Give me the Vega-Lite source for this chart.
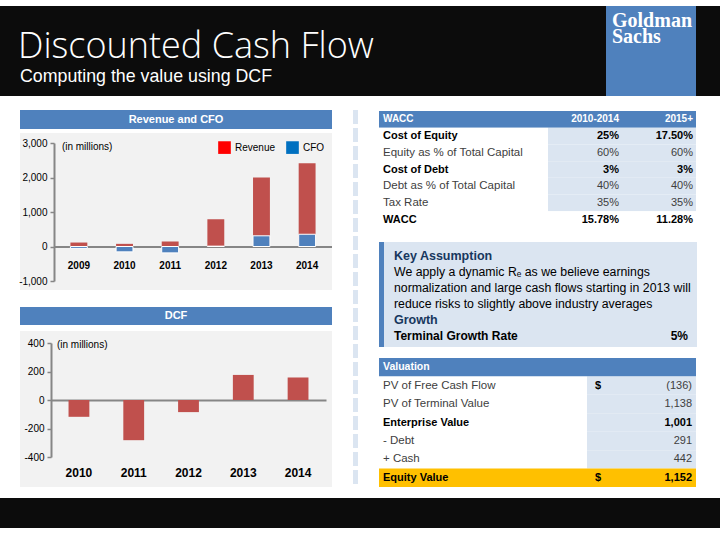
{
  "$schema": "https://vega.github.io/schema/vega-lite/v6.json",
  "padding": {"top": 6, "left": 0, "right": 0, "bottom": 0},
  "background": "white",
  "config": {"view": {"stroke": null}, "font": "Liberation Sans", "concat": {"spacing": 0}},
  "datasets": {
    "revcfo": [
      {"year": "2009", "series": "Revenue", "value": 115},
      {"year": "2010", "series": "Revenue", "value": 77},
      {"year": "2011", "series": "Revenue", "value": 145},
      {"year": "2012", "series": "Revenue", "value": 790},
      {"year": "2013", "series": "Revenue", "value": 2000},
      {"year": "2014", "series": "Revenue", "value": 2410},
      {"year": "2009", "series": "CFO", "value": -55},
      {"year": "2010", "series": "CFO", "value": -155},
      {"year": "2011", "series": "CFO", "value": -185},
      {"year": "2012", "series": "CFO", "value": 10},
      {"year": "2013", "series": "CFO", "value": 310},
      {"year": "2014", "series": "CFO", "value": 355}
    ],
    "dcf": [
      {"year": "2010", "dcf": -118},
      {"year": "2011", "dcf": -282},
      {"year": "2012", "dcf": -85},
      {"year": "2013", "dcf": 176},
      {"year": "2014", "dcf": 158}
    ],
    "wacc": [
      {"row": "header", "col": "Metric", "text": "WACC"},
      {"row": "header", "col": "2010-2014", "text": "2010-2014"},
      {"row": "header", "col": "2015+", "text": "2015+"},
      {"row": "Cost of Equity", "col": "Metric", "text": "Cost of Equity"},
      {"row": "Cost of Equity", "col": "2010-2014", "text": "25%"},
      {"row": "Cost of Equity", "col": "2015+", "text": "17.50%"},
      {"row": "Equity as % of Total Capital", "col": "Metric", "text": "Equity as % of Total Capital"},
      {"row": "Equity as % of Total Capital", "col": "2010-2014", "text": "60%"},
      {"row": "Equity as % of Total Capital", "col": "2015+", "text": "60%"},
      {"row": "Cost of Debt", "col": "Metric", "text": "Cost of Debt"},
      {"row": "Cost of Debt", "col": "2010-2014", "text": "3%"},
      {"row": "Cost of Debt", "col": "2015+", "text": "3%"},
      {"row": "Debt as % of Total Capital", "col": "Metric", "text": "Debt as % of Total Capital"},
      {"row": "Debt as % of Total Capital", "col": "2010-2014", "text": "40%"},
      {"row": "Debt as % of Total Capital", "col": "2015+", "text": "40%"},
      {"row": "Tax Rate", "col": "Metric", "text": "Tax Rate"},
      {"row": "Tax Rate", "col": "2010-2014", "text": "35%"},
      {"row": "Tax Rate", "col": "2015+", "text": "35%"},
      {"row": "WACC", "col": "Metric", "text": "WACC"},
      {"row": "WACC", "col": "2010-2014", "text": "15.78%"},
      {"row": "WACC", "col": "2015+", "text": "11.28%"}
    ],
    "assumptions": [
      {"section": "Key Assumption", "text": "Key Assumption"},
      {"section": "Key Assumption", "text": "We apply a dynamic Rₑ as we believe earnings"},
      {"section": "Key Assumption", "text": "normalization and large cash flows starting in 2013 will"},
      {"section": "Key Assumption", "text": "reduce risks to slightly above industry averages"},
      {"section": "Growth", "text": "Growth"},
      {"section": "Growth", "text": "Terminal Growth Rate", "value": "5%"}
    ],
    "valuation": [
      {"item": "Valuation"},
      {"item": "PV of Free Cash Flow", "unit": "$", "amount": -136},
      {"item": "PV of Terminal Value", "amount": 1138},
      {"item": "Enterprise Value", "amount": 1001},
      {"item": "- Debt", "amount": 291},
      {"item": "+ Cash", "amount": 442},
      {"item": "Equity Value", "unit": "$", "amount": 1152}
    ]
  },
  "spacing": 0,
  "bounds": "full",
  "vconcat": [
    {
      "spacing": 0,
      "bounds": "flush",
      "hconcat": [
        {
          "width": 606, "height": 90,
          "view": {"fill": "#0c0c0c"},
          "data": {"values": [{"role": "title", "text": "Discounted Cash Flow"}, {"role": "subtitle", "text": "Computing the value using DCF"}]},
          "encoding": {
            "x": {"datum": 0, "type": "quantitative", "scale": {"domain": [0, 1]}, "axis": null},
            "y": {"field": "role", "type": "nominal", "scale": {"type": "point", "domain": ["title", "subtitle"], "range": [52, 76], "padding": 0}, "axis": null},
            "text": {"field": "text"}
          },
          "layer": [
            {"transform": [{"filter": "datum.role === 'title'"}], "mark": {"type": "text", "align": "left", "baseline": "alphabetic", "dx": 18, "font": "Open Sans", "fontWeight": 300, "fontSize": 36, "color": "white"}},
            {"transform": [{"filter": "datum.role === 'subtitle'"}], "mark": {"type": "text", "align": "left", "baseline": "alphabetic", "dx": 20, "font": "Liberation Sans", "fontSize": 17.8, "color": "white"}}
          ]
        },
        {
          "width": 90, "height": 90,
          "view": {"fill": "#4f81bd"},
          "data": {"values": [{"line": "Goldman"}, {"line": "Sachs"}]},
          "mark": {"type": "text", "align": "left", "baseline": "alphabetic", "dx": 6, "font": "Liberation Serif", "fontWeight": "bold", "fontSize": 20, "color": "white"},
          "encoding": {
            "x": {"datum": 0, "type": "quantitative", "scale": {"domain": [0, 1]}, "axis": null},
            "y": {"field": "line", "type": "nominal", "sort": null, "scale": {"type": "point", "range": [21, 37], "padding": 0}, "axis": null},
            "text": {"field": "line"}
          }
        },
        {"width": 24, "height": 90, "view": {"fill": "#0c0c0c"}, "data": {"values": []}, "mark": "rect"}
      ]
    },
    {"width": 720, "height": 14, "view": {"fill": "white"}, "data": {"values": []}, "mark": "rect"},
    {
      "spacing": 0,
      "bounds": "full",
      "hconcat": [
        {"width": 18, "height": 377, "view": {"fill": "white"}, "data": {"values": []}, "mark": "rect"},
        {
          "spacing": 0,
          "bounds": "flush",
          "resolve": {"scale": {"color": "independent", "fill": "independent"}, "legend": {"color": "independent", "fill": "independent"}},
          "vconcat": [
            {
              "width": 312, "height": 19,
              "view": {"fill": "#4f81bd"},
              "data": {"values": [{"title": "Revenue and CFO"}]},
              "mark": {"type": "text", "color": "white", "fontWeight": "bold", "fontSize": 11},
              "encoding": {"text": {"field": "title"}}
            },
            {"width": 312, "height": 4, "view": {"fill": "white"}, "data": {"values": []}, "mark": "rect"},
            {
              "width": 312, "height": 157,
              "view": {"fill": "#f2f2f2"},
              "data": {"name": "revcfo"},
              "encoding": {
                "x": {
                  "field": "year", "type": "ordinal",
                  "scale": {"domain": ["2009", "2010", "2011", "2012", "2013", "2014"], "range": [34, 312], "paddingInner": 0.63, "paddingOuter": 0.36},
                  "axis": {"orient": "bottom", "offset": -43.5, "title": null, "labelAngle": 0, "domainColor": "#868686", "domainWidth": 2, "ticks": false, "labelFontSize": 10, "labelFontWeight": "bold", "labelColor": "#000", "labelPadding": 14}
                },
                "y": {
                  "field": "value", "type": "quantitative", "stack": null,
                  "scale": {"domain": [-1000, 3000], "range": [148, 10], "nice": false, "zero": false},
                  "axis": {"title": null, "offset": -34, "values": [-1000, 0, 1000, 2000, 3000], "labelExpr": "(datum.value < 0 ? '-' : '') + format(abs(datum.value), ',')", "grid": false, "domainColor": "#868686", "domainWidth": 2, "tickColor": "#868686", "tickWidth": 1.5, "tickSize": 4, "labelFontSize": 10, "labelColor": "#000", "labelPadding": 3}
                }
              },
              "layer": [
                {
                  "transform": [{"filter": "datum.series === 'Revenue'"}],
                  "mark": {"type": "bar", "color": "#c0504d"}
                },
                {
                  "transform": [{"filter": "datum.series === 'CFO'"}],
                  "mark": {"type": "bar", "color": "#4f81bd", "stroke": "white", "strokeWidth": 1}
                },
                {
                  "mark": {"type": "square", "size": 0, "filled": true},
                  "encoding": {
                    "fill": {
                      "field": "series", "type": "nominal",
                      "scale": {"domain": ["Revenue", "CFO"], "range": ["#ff0000", "#0070c0"]},
                      "legend": {
                        "orient": "none", "legendX": 198, "legendY": 8, "direction": "horizontal", "title": null,
                        "symbolType": "square", "symbolSize": 160, "symbolStrokeWidth": 0, "symbolOpacity": 1,
                        "labelFontSize": 10, "labelColor": "#000", "labelOffset": 4, "columnPadding": 10
                      }
                    }
                  }
                },
                {
                  "data": {"values": [{"note": "(in millions)", "year": "2009", "value": 3000}]},
                  "mark": {"type": "text", "align": "left", "baseline": "middle", "dx": -17, "dy": 4, "fontSize": 10, "color": "#000"},
                  "encoding": {"text": {"field": "note"}}
                }
              ]
            },
            {"width": 312, "height": 17, "view": {"fill": "white"}, "data": {"values": []}, "mark": "rect"},
            {
              "width": 312, "height": 18,
              "view": {"fill": "#4f81bd"},
              "data": {"values": [{"title": "DCF"}]},
              "mark": {"type": "text", "color": "white", "fontWeight": "bold", "fontSize": 11},
              "encoding": {"text": {"field": "title"}}
            },
            {"width": 312, "height": 6, "view": {"fill": "white"}, "data": {"values": []}, "mark": "rect"},
            {
              "width": 312, "height": 156,
              "view": {"fill": "#f2f2f2"},
              "data": {"name": "dcf"},
              "encoding": {
                "x": {
                  "field": "year", "type": "ordinal",
                  "scale": {"domain": ["2010", "2011", "2012", "2013", "2014"], "range": [31, 306], "paddingInner": 0.62, "paddingOuter": 0.32},
                  "axis": {"orient": "bottom", "offset": -87, "title": null, "labelAngle": 0, "domainColor": "#868686", "domainWidth": 2, "ticks": false, "labelFontSize": 12, "labelFontWeight": "bold", "labelColor": "#000", "labelPadding": 67}
                },
                "y": {
                  "field": "dcf", "type": "quantitative",
                  "scale": {"domain": [-400, 400], "range": [126, 12], "nice": false, "zero": false},
                  "axis": {"title": null, "offset": -31, "values": [-400, -200, 0, 200, 400], "labelExpr": "(datum.value < 0 ? '-' : '') + format(abs(datum.value), ',')", "grid": false, "domainColor": "#868686", "domainWidth": 2, "tickColor": "#868686", "tickWidth": 1.5, "tickSize": 4, "labelFontSize": 10, "labelColor": "#000", "labelPadding": 3}
                }
              },
              "layer": [
                {"mark": {"type": "bar", "color": "#c0504d"}},
                {
                  "data": {"values": [{"note": "(in millions)", "year": "2010", "dcf": 400}]},
                  "mark": {"type": "text", "align": "left", "baseline": "middle", "dx": -22, "dy": 2, "fontSize": 10, "color": "#000"},
                  "encoding": {"text": {"field": "note"}}
                }
              ]
            }
          ]
        },
        {"width": 21, "height": 377, "view": {"fill": "white"}, "data": {"values": []}, "mark": "rect"},
        {
          "width": 5, "height": 377,
          "view": {"fill": "white"},
          "data": {"values": [{"element": "divider"}]},
          "mark": {"type": "rule", "color": "#dbe5f1", "strokeWidth": 5, "strokeDash": [14, 4], "clip": true},
          "encoding": {"x": {"datum": 0.5, "type": "quantitative", "scale": {"domain": [0, 1]}, "axis": null}}
        },
        {"width": 21, "height": 377, "view": {"fill": "white"}, "data": {"values": []}, "mark": "rect"},
        {
          "spacing": 0,
          "bounds": "full",
          "vconcat": [
            {"width": 317, "height": 1, "view": {"fill": "white"}, "data": {"values": []}, "mark": "rect"},
            {
              "spacing": 0,
              "bounds": "flush",
              "hconcat": [
                {
                  "width": 169, "height": 117,
                  "data": {"name": "wacc"},
                  "transform": [{"filter": "datum.col === 'Metric'"}],
                  "encoding": {
                    "y": {"field": "row", "type": "nominal", "sort": null, "scale": {"paddingInner": 0, "paddingOuter": 0}, "axis": null},
                    "x": {"field": "col", "type": "nominal", "scale": {"paddingInner": 0, "paddingOuter": 0}, "axis": null}
                  },
                  "layer": [
                    {"mark": {"type": "rect"}, "encoding": {"fill": {"condition": {"test": "datum.row === 'header'", "value": "#4f81bd"}, "value": "white"}}},
                    {"transform": [{"filter": "datum.row === 'header'"}], "mark": {"type": "text", "align": "left", "dx": 4, "color": "white", "fontWeight": "bold", "fontSize": 10}, "encoding": {"text": {"field": "text"}, "x": {"field": "col", "type": "nominal", "bandPosition": 0}}},
                    {"transform": [{"filter": "indexof(['Cost of Equity','Cost of Debt','WACC'], datum.row) >= 0"}], "mark": {"type": "text", "align": "left", "dx": 4, "color": "#000", "fontWeight": "bold", "fontSize": 11}, "encoding": {"text": {"field": "text"}, "x": {"field": "col", "type": "nominal", "bandPosition": 0}}},
                    {"transform": [{"filter": "datum.row !== 'header' && indexof(['Cost of Equity','Cost of Debt','WACC'], datum.row) < 0"}], "mark": {"type": "text", "align": "left", "dx": 4, "color": "#404040", "fontSize": 11.5}, "encoding": {"text": {"field": "text"}, "x": {"field": "col", "type": "nominal", "bandPosition": 0}}}
                  ]
                },
                {
                  "width": 148, "height": 117,
                  "data": {"name": "wacc"},
                  "transform": [{"filter": "datum.col !== 'Metric'"}],
                  "encoding": {
                    "y": {"field": "row", "type": "nominal", "sort": null, "scale": {"paddingInner": 0, "paddingOuter": 0}, "axis": null},
                    "x": {"field": "col", "type": "nominal", "sort": null, "scale": {"paddingInner": 0, "paddingOuter": 0}, "axis": null}
                  },
                  "layer": [
                    {"mark": {"type": "rect"}, "encoding": {"fill": {"condition": [{"test": "datum.row === 'header'", "value": "#4f81bd"}, {"test": "datum.row === 'WACC'", "value": "white"}], "value": "#dbe5f1"}}},
                    {"transform": [{"filter": "datum.row === 'header'"}], "mark": {"type": "text", "align": "right", "dx": -3, "color": "white", "fontWeight": "bold", "fontSize": 10}, "encoding": {"text": {"field": "text"}, "x": {"field": "col", "type": "nominal", "sort": null, "bandPosition": 1}}},
                    {"transform": [{"filter": "indexof(['Cost of Equity','Cost of Debt','WACC'], datum.row) >= 0"}], "mark": {"type": "text", "align": "right", "dx": -3, "color": "#000", "fontWeight": "bold", "fontSize": 11}, "encoding": {"text": {"field": "text"}, "x": {"field": "col", "type": "nominal", "sort": null, "bandPosition": 1}}},
                    {"transform": [{"filter": "datum.row !== 'header' && indexof(['Cost of Equity','Cost of Debt','WACC'], datum.row) < 0"}], "mark": {"type": "text", "align": "right", "dx": -3, "color": "#404040", "fontSize": 11}, "encoding": {"text": {"field": "text"}, "x": {"field": "col", "type": "nominal", "sort": null, "bandPosition": 1}}}
                  ]
                }
              ]
            },
            {"width": 317, "height": 14, "view": {"fill": "white"}, "data": {"values": []}, "mark": "rect"},
            {
              "spacing": 0,
              "bounds": "flush",
              "hconcat": [
                {"width": 5, "height": 105, "view": {"fill": "#4f81bd"}, "data": {"values": []}, "mark": "rect"},
                {
                  "width": 313, "height": 105,
                  "view": {"fill": "#dbe5f1"},
                  "data": {"name": "assumptions"},
                  "transform": [{"window": [{"op": "row_number", "as": "line"}]}],
                  "encoding": {
                    "x": {"datum": 0, "type": "quantitative", "scale": {"domain": [0, 1]}, "axis": null},
                    "y": {"field": "line", "type": "ordinal", "scale": {"type": "point", "domain": [1, 2, 3, 4, 5, 6], "range": [14, 94], "padding": 0}, "axis": null},
                    "text": {"field": "text"}
                  },
                  "layer": [
                    {"transform": [{"filter": "datum.text === datum.section"}], "mark": {"type": "text", "align": "left", "baseline": "middle", "dx": 10, "color": "#17375e", "fontWeight": "bold", "fontSize": 12.5}},
                    {"transform": [{"filter": "datum.section === 'Key Assumption' && datum.text !== datum.section"}], "mark": {"type": "text", "align": "left", "baseline": "middle", "dx": 10, "color": "#000", "fontSize": 12.3}},
                    {"transform": [{"filter": "isValid(datum.value)"}], "mark": {"type": "text", "align": "left", "baseline": "middle", "dx": 10, "color": "#000", "fontWeight": "bold", "fontSize": 12}},
                    {"transform": [{"filter": "isValid(datum.value)"}], "mark": {"type": "text", "align": "right", "baseline": "middle", "dx": -9, "color": "#000", "fontWeight": "bold", "fontSize": 12}, "encoding": {"x": {"datum": 1, "type": "quantitative"}, "text": {"field": "value"}}}
                  ]
                }
              ]
            },
            {"width": 317, "height": 11, "view": {"fill": "white"}, "data": {"values": []}, "mark": "rect"},
            {
              "spacing": 0,
              "bounds": "flush",
              "hconcat": [
                {
                  "width": 208, "height": 129,
                  "data": {"name": "valuation"},
                  "encoding": {
                    "y": {"field": "item", "type": "nominal", "sort": null, "scale": {"paddingInner": 0, "paddingOuter": 0}, "axis": null},
                    "x": {"datum": 0, "type": "quantitative", "scale": {"domain": [0, 1]}, "axis": null}
                  },
                  "layer": [
                    {"mark": {"type": "rect"}, "encoding": {"x2": {"datum": 1}, "fill": {"condition": [{"test": "datum.item === 'Valuation'", "value": "#4f81bd"}, {"test": "datum.item === 'Equity Value'", "value": "#ffc000"}], "value": "white"}}},
                    {"transform": [{"filter": "datum.item === 'Valuation'"}], "mark": {"type": "text", "align": "left", "dx": 4, "color": "white", "fontWeight": "bold", "fontSize": 10.5}, "encoding": {"text": {"field": "item"}}},
                    {"transform": [{"filter": "datum.item === 'Enterprise Value' || datum.item === 'Equity Value'"}], "mark": {"type": "text", "align": "left", "dx": 4, "color": "#000", "fontWeight": "bold", "fontSize": 11}, "encoding": {"text": {"field": "item"}}},
                    {"transform": [{"filter": "indexof(['Valuation','Enterprise Value','Equity Value'], datum.item) < 0"}], "mark": {"type": "text", "align": "left", "dx": 4, "color": "#404040", "fontSize": 11.5}, "encoding": {"text": {"field": "item"}}}
                  ]
                },
                {
                  "width": 109, "height": 129,
                  "data": {"name": "valuation"},
                  "encoding": {
                    "y": {"field": "item", "type": "nominal", "sort": null, "scale": {"paddingInner": 0, "paddingOuter": 0}, "axis": null},
                    "x": {"datum": 0, "type": "quantitative", "scale": {"domain": [0, 1]}, "axis": null}
                  },
                  "layer": [
                    {"mark": {"type": "rect"}, "encoding": {"x2": {"datum": 1}, "fill": {"condition": [{"test": "datum.item === 'Valuation'", "value": "#4f81bd"}, {"test": "datum.item === 'Equity Value'", "value": "#ffc000"}], "value": "#dbe5f1"}}},
                    {"transform": [{"filter": "isValid(datum.unit)"}], "mark": {"type": "text", "align": "left", "dx": 8, "color": "#000", "fontWeight": "bold", "fontSize": 11}, "encoding": {"text": {"field": "unit"}}},
                    {"transform": [{"filter": "isValid(datum.amount) && (datum.item === 'Enterprise Value' || datum.item === 'Equity Value')"}], "mark": {"type": "text", "align": "right", "dx": -4, "color": "#000", "fontWeight": "bold", "fontSize": 11}, "encoding": {"x": {"datum": 1, "type": "quantitative"}, "text": {"field": "amount", "type": "quantitative", "format": "(,.0f"}}},
                    {"transform": [{"filter": "isValid(datum.amount) && datum.item !== 'Enterprise Value' && datum.item !== 'Equity Value'"}], "mark": {"type": "text", "align": "right", "dx": -4, "color": "#404040", "fontSize": 11}, "encoding": {"x": {"datum": 1, "type": "quantitative"}, "text": {"field": "amount", "type": "quantitative", "format": "(,.0f"}}}
                  ]
                }
              ]
            }
          ]
        }
      ]
    },
    {"width": 720, "height": 11, "view": {"fill": "white"}, "data": {"values": []}, "mark": "rect"},
    {"width": 720, "height": 30, "view": {"fill": "#0c0c0c"}, "data": {"values": []}, "mark": "rect"}
  ]
}
